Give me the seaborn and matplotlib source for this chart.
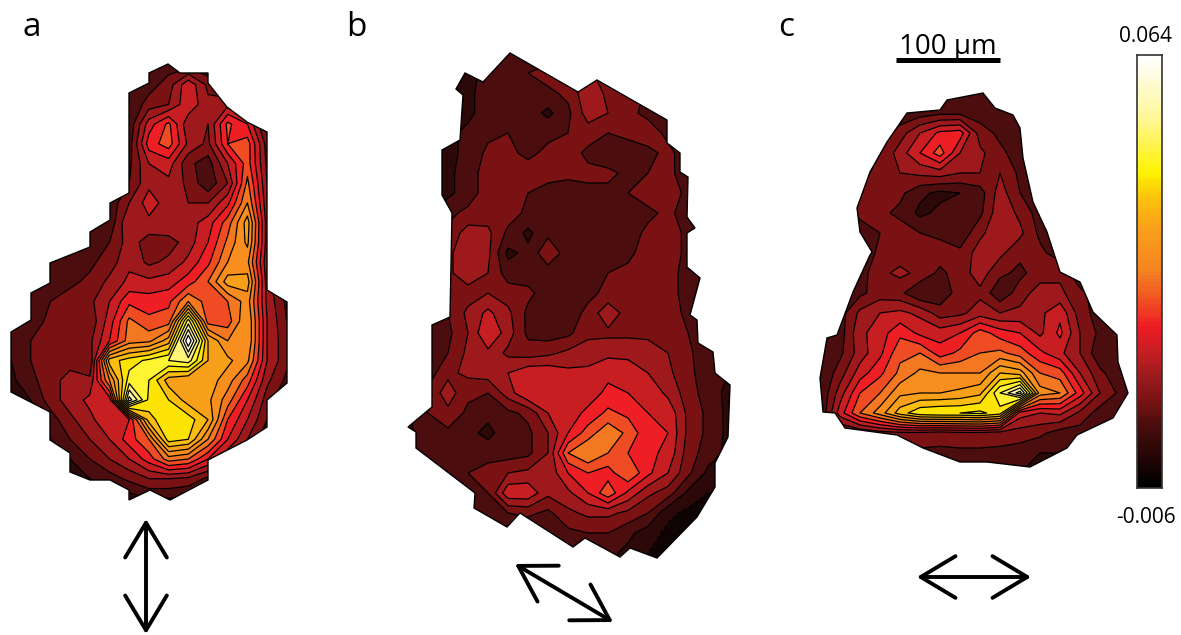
import numpy as np
import matplotlib.pyplot as plt
from matplotlib.colors import LinearSegmentedColormap
from matplotlib.patches import Polygon
import seaborn as sns

sns.set_style("white")
plt.rcParams["font.family"] = ["Open Sans", "DejaVu Sans"]

# signal in thousandths, one sample every ~20 px
panel_a = [
    [1, 1, 1, 1, 1, 1, 1, 2, 4, 4, 2, 1, 1, 1, 1],
    [1, 1, 1, 1, 1, 1, 2, 4, 8, 17, 9, 4, 1, 1, 1],
    [1, 1, 1, 1, 1, 1, 2, 8, 10, 17, 11, 13, 6, 1, 1],
    [1, 1, 1, 1, 1, 1, 3, 16, 23, 11, 10, 23, 18, 4, 1],
    [1, 1, 1, 1, 1, 1, 4, 20, 24, 13, 9, 22, 24, 8, 2],
    [1, 1, 1, 1, 1, 2, 5, 14, 16, 7, 4, 14, 24, 9, 2],
    [1, 1, 1, 1, 1, 2, 6, 13, 13, 9, 3, 10, 27, 10, 2],
    [1, 1, 1, 1, 1, 3, 10, 16, 12, 10, 10, 17, 30, 11, 2],
    [1, 1, 1, 1, 2, 3, 14, 13, 14, 12, 16, 24, 36, 12, 2],
    [1, 1, 1, 2, 3, 6, 12, 8, 8, 12, 18, 27, 35, 12, 2],
    [1, 1, 2, 3, 5, 8, 13, 9, 11, 15, 21, 30, 31, 11, 3],
    [1, 2, 3, 5, 7, 11, 15, 15, 16, 20, 26, 36, 36, 12, 3],
    [2, 3, 6, 8, 9, 14, 21, 20, 21, 30, 24, 26, 32, 13, 5],
    [2, 4, 7, 8, 7, 16, 27, 23, 24, 52, 24, 24, 34, 14, 6],
    [2, 6, 8, 8, 9, 18, 28, 29, 36, 66, 38, 30, 34, 14, 7],
    [2, 6, 8, 8, 6, 40, 44, 47, 50, 52, 38, 35, 31, 14, 7],
    [1, 5, 8, 12, 11, 30, 48, 46, 36, 34, 36, 32, 24, 11, 5],
    [1, 2, 8, 12, 15, 16, 60, 45, 42, 36, 35, 28, 18, 8, 2],
    [0, 0, 4, 9, 13, 17, 18, 40, 46, 44, 38, 22, 14, 6, 1],
    [0, 0, 2, 6, 10, 14, 20, 26, 44, 42, 30, 18, 10, 3, 1],
    [0, 0, 0, 2, 6, 10, 14, 20, 28, 26, 18, 10, 4, 1, 0],
    [0, 0, 0, 0, 2, 4, 7, 10, 10, 9, 5, 3, 1, 0, 0],
    [0, 0, 0, 0, 0, 0, 0, 2, 2, 1, 0, 0, 0, 0, 0],
]
panel_b = [
    [1, 1, 1, 1, 2, 5, 4, 3, 2, 2, 1, 1, 1, 1, 1, 1, 1],
    [1, 1, 1, 1, 3, 5, 6, 8, 9, 12, 5, 2, 1, 1, 1, 1, 1],
    [1, 1, 0, 1, 4, 5, 5, 5, 7, 13, 9, 9, 5, 2, 1, 1, 1],
    [1, 1, 1, 1, 4, 5, 4, 1, 5, 12, 10, 7, 5, 4, 1, 1, 1],
    [1, 1, 1, 3, 5, 6, 4, 5, 6, 8, 6, 7, 8, 5, 3, 1, 1],
    [1, 1, 1, 3, 7, 7, 5, 7, 8, 5, 3, 4, 5, 7, 4, 1, 1],
    [1, 1, 1, 4, 8, 8, 8, 8, 7, 7, 7, 5, 6, 7, 4, 1, 1],
    [1, 1, 1, 4, 8, 8, 6, 4, 4, 5, 5, 6, 8, 8, 5, 1, 1],
    [1, 1, 5, 7, 8, 8, 5, 4, 4, 4, 4, 4, 5, 7, 4, 1, 1],
    [1, 1, 7, 12, 11, 5, 1, 5, 4, 4, 4, 4, 7, 8, 5, 2, 1],
    [1, 1, 9, 13, 11, 1, 3, 9, 4, 4, 4, 5, 8, 8, 5, 2, 1],
    [1, 1, 9, 13, 10, 4, 4, 4, 4, 4, 6, 7, 8, 8, 4, 1, 1],
    [1, 1, 7, 8, 10, 8, 7, 4, 4, 5, 7, 8, 9, 8, 4, 2, 1],
    [1, 3, 6, 11, 15, 11, 5, 4, 4, 7, 13, 8, 10, 8, 5, 2, 1],
    [1, 3, 5, 10, 18, 12, 5, 4, 5, 9, 9, 9, 9, 9, 6, 2, 1],
    [1, 3, 6, 11, 13, 9, 8, 9, 11, 12, 13, 13, 12, 10, 7, 3, 1],
    [1, 4, 9, 11, 12, 14, 17, 17, 15, 15, 17, 16, 14, 11, 7, 4, 2],
    [1, 7, 12, 7, 6, 12, 18, 18, 16, 16, 19, 18, 17, 13, 8, 4, 1],
    [1, 6, 9, 5, 3, 5, 7, 14, 16, 19, 23, 21, 18, 17, 9, 5, 1],
    [1, 5, 5, 3, 1, 4, 5, 10, 18, 24, 29, 25, 19, 18, 9, 5, 1],
    [1, 4, 5, 4, 4, 4, 5, 10, 26, 30, 26, 22, 19, 17, 8, 4, 1],
    [1, 1, 3, 6, 8, 10, 11, 11, 18, 22, 20, 26, 19, 14, 7, 1, -1],
    [1, 1, 1, 3, 6, 17, 17, 11, 13, 18, 25, 17, 11, 8, 1, -2, -2],
    [1, 1, 1, 1, 3, 6, 7, 5, 9, 11, 11, 9, 6, -1, -3, -3, -3],
    [1, 1, 1, 1, 1, 1, 2, 3, 5, 6, 6, 3, 0, -3, -3, -3, -3],
    [1, 1, 1, 1, 1, 1, 1, 2, 2, 2, 3, 1, -2, -3, -3, -3, -3],
]
panel_c = [
    [2, 2, 2, 2, 2, 2, 2, 3, 3, 2, 2, 2, 2, 2, 2, 2],
    [2, 2, 2, 2, 3, 4, 5, 5, 4, 3, 2, 2, 2, 2, 2, 2],
    [2, 2, 2, 4, 8, 14, 19, 20, 8, 5, 3, 2, 2, 2, 2, 2],
    [2, 2, 3, 6, 12, 18, 24, 14, 11, 7, 4, 2, 2, 2, 2, 2],
    [2, 2, 4, 8, 10, 11, 12, 10, 10, 10, 5, 3, 2, 2, 2, 2],
    [2, 2, 6, 8, 7, 3, 1, 2, 4, 12, 6, 3, 2, 2, 2, 2],
    [2, 2, 7, 7, 5, 1, 3, 4, 5, 13, 9, 4, 2, 2, 2, 2],
    [2, 2, 4, 6, 8, 6, 5, 3, 9, 13, 11, 5, 3, 2, 2, 2],
    [2, 2, 3, 7, 8, 9, 8, 7, 12, 11, 7, 7, 4, 2, 2, 2],
    [2, 2, 4, 9, 11, 9, 5, 8, 12, 7, 5, 8, 9, 3, 2, 2],
    [2, 3, 5, 8, 7, 2, 3, 8, 9, 3, 8, 12, 11, 7, 4, 2],
    [2, 4, 11, 14, 15, 13, 8, 9, 12, 10, 11, 13, 17, 8, 4, 2],
    [2, 4, 13, 16, 21, 17, 16, 18, 24, 20, 18, 13, 19, 10, 5, 2],
    [3, 5, 12, 17, 25, 26, 20, 23, 26, 27, 24, 19, 15, 10, 3, 3],
    [2, 8, 16, 21, 27, 31, 30, 30, 30, 38, 36, 26, 24, 14, 7, 3],
    [2, 12, 22, 26, 33, 34, 34, 35, 37, 50, 60, 32, 30, 20, 10, 5],
    [2, 16, 26, 32, 40, 45, 46, 46, 47, 44, 16, 14, 15, 9, 4, 2],
    [1, 5, 6, 8, 9, 9, 8, 9, 9, 8, 8, 7, 4, 4, 2, 1],
    [1, 1, 2, 3, 5, 5, 5, 5, 5, 5, 4, 2, 2, 1, 1, 1],
    [1, 1, 1, 2, 2, 2, 2, 2, 2, 2, 2, 1, 1, 1, 1, 1],
]

# outlines of the three maps, px
outline_a = [(168, 64), (149, 73), (149, 83), (129, 93), (129, 193), (110, 203), (110, 220),
             (90, 232), (90, 247), (50, 263), (50, 283), (31, 293), (31, 320), (11, 332),
             (11, 392), (50, 412), (50, 440), (70, 453), (70, 472), (90, 480), (110, 480),
             (129, 490), (129, 500), (150, 490), (170, 500), (208, 480), (208, 460),
             (247, 440), (267, 427), (267, 400), (287, 383), (287, 302), (267, 290),
             (267, 132), (247, 122), (227, 107), (208, 83), (208, 73), (180, 73)]
outline_b = [(510, 53), (483, 82), (465, 73), (456, 89), (463, 95), (460, 140), (442, 150),
             (442, 195), (452, 213), (450, 317), (432, 325), (432, 407), (408, 427),
             (416, 432), (416, 448), (475, 493), (474, 508), (507, 527), (520, 513),
             (573, 547), (585, 538), (620, 557), (630, 548), (657, 558), (697, 517),
             (715, 487), (715, 463), (728, 437), (730, 385), (715, 373), (713, 352),
             (698, 343), (697, 320), (690, 315), (700, 278), (687, 267), (687, 233),
             (695, 228), (687, 217), (688, 177), (680, 172), (680, 153), (667, 143),
             (667, 120), (597, 80), (578, 92)]
outline_c = [(947, 100), (983, 93), (995, 108), (1013, 115), (1020, 128), (1023, 158),
             (1033, 202), (1047, 232), (1060, 272), (1080, 282), (1093, 312), (1117, 335),
             (1118, 362), (1128, 393), (1113, 418), (1077, 435), (1067, 448), (1030, 467),
             (987, 462), (960, 462), (923, 448), (897, 435), (845, 428), (835, 413),
             (823, 412), (820, 378), (827, 338), (837, 335), (853, 292), (870, 255),
             (872, 252), (860, 232), (857, 208), (870, 172), (887, 142), (907, 113), (940, 110)]

panel_labels = ["a", "b", "c"]
scale_label = "100 µm"
cbar_top_label = "0.064"
cbar_bottom_label = "-0.006"

levels = np.arange(-6, 67, 4)
cmap = LinearSegmentedColormap.from_list("polar", [
    (0.0, "#000000"), (0.14, "#4a0d0d"), (0.20, "#7a1214"), (0.26, "#a01a1d"),
    (0.31, "#c41e22"), (0.37, "#ed1c24"), (0.43, "#f04e23"), (0.50, "#f58220"),
    (0.60, "#f9a01b"), (0.68, "#fdc70c"), (0.73, "#fff200"), (0.86, "#fff799"),
    (1.0, "#ffffff")])

fig = plt.figure(figsize=(11.81, 6.35), dpi=100)
ax = fig.add_axes([0, 0, 1, 1])
ax.set_xlim(0, 1181)
ax.set_ylim(635, 0)
ax.axis("off")


def draw_map(grid, outline, left, top, step):
    # pad by one sample so the contours reach past the outline everywhere
    z = np.pad(np.array(grid, dtype=float), 1, mode="edge")
    x = left + step * np.arange(-1, z.shape[1] - 1)
    y = top + step * np.arange(-1, z.shape[0] - 1)
    patch = Polygon(outline, closed=True, fc="none", ec="black", lw=1, zorder=3)
    ax.add_patch(patch)
    filled = ax.contourf(x, y, z, levels=levels, cmap=cmap, vmin=-6, vmax=64, extend="both")
    lines = ax.contour(x, y, z, levels=levels, colors="black", linewidths=0.9)
    filled.set_clip_path(patch)
    lines.set_clip_path(patch)


draw_map(panel_a, outline_a, 11, 65, 19.7)
draw_map(panel_b, outline_b, 408, 53, 20)
draw_map(panel_c, outline_c, 820, 93, 20)

for label, lx in zip(panel_labels, [32, 356, 786]):
    ax.text(lx, 36, label, fontsize=24, ha="center", va="baseline", color="black")

# scale bar
ax.plot([896, 1000], [60, 60], color="black", lw=3.6, solid_capstyle="butt")
ax.text(948, 54, scale_label, fontsize=20, ha="center", va="baseline", color="black")

# polarization arrows
for start, end in [((146, 519), (146, 634)), ((515, 564), (613, 622)), ((917, 577), (1031, 577))]:
    ax.annotate("", xy=end, xytext=start,
                arrowprops=dict(arrowstyle="<->,head_length=2.5,head_width=1.5", lw=2.8,
                                color="black", shrinkA=0, shrinkB=0))

# colour scale
cax = fig.add_axes([1137 / 1181, 1 - 488 / 635, 25 / 1181, 433 / 635])
gradient = np.linspace(64, -6, 120).reshape(-1, 1)
sns.heatmap(gradient, ax=cax, cmap=cmap, vmin=-6, vmax=64, cbar=False,
            xticklabels=False, yticklabels=False)
for spine in cax.spines.values():
    spine.set_visible(True)
    spine.set_color("#333333")
    spine.set_linewidth(1.2)
ax.text(1146, 42, cbar_top_label, fontsize=15, ha="center", va="baseline", color="black")
ax.text(1146, 523, cbar_bottom_label, fontsize=15, ha="center", va="baseline", color="black")

fig.savefig("out.png", dpi=100)
